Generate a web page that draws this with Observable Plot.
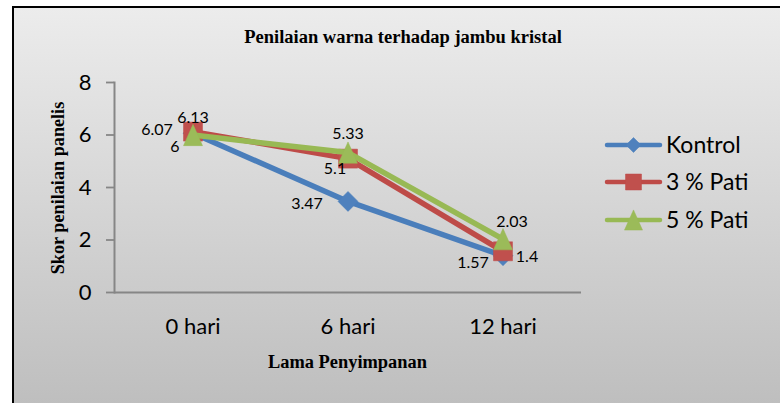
<!DOCTYPE html>
<html>
<head>
<meta charset="utf-8">
<script src="https://cdn.jsdelivr.net/npm/d3@7"></script>
<script src="https://cdn.jsdelivr.net/npm/@observablehq/plot@0.6"></script>
<style>
  html, body { margin: 0; padding: 0; background: #fff; }
  #wrap { position: relative; width: 780px; height: 403px; overflow: hidden; background: #fff; }
  #panel { position: absolute; left: 12px; top: 6px; width: 800px; height: 420px;
           border-left: 2.5px solid #000; border-top: 2.5px solid #000;
           background: linear-gradient(to bottom, #ececec 0px, #bebebe 397px); }
  #chart, #overlay { position: absolute; left: 0; top: 0; }
</style>
</head>
<body>
<div id="wrap">
  <div id="panel"></div>
  <div id="chart"></div>
  <svg id="overlay" width="780" height="403"></svg>
</div>
<script>
// ---- data ----
const categories = ["0 hari", "6 hari", "12 hari"];
const seriesNames = ["Kontrol", "3 % Pati", "5 % Pati"];
const kontrol = [6.07, 3.47, 1.4];
const pati3 = [6.13, 5.1, 1.57];
const pati5 = [6, 5.33, 2.03];
const yTicks = [0, 2, 4, 6, 8];
const titleText = "Penilaian warna terhadap jambu kristal";
const xTitle = "Lama Penyimpanan";
const yTitle = "Skor penilaian panelis";

// ---- styling (not data) ----
const lineColors = ["#4A7EBB", "#BE4B48", "#98B954"];
const fillColors = ["#4F81BD", "#C0504D", "#9BBB59"];
// data label offsets [dx, dy] per series per point
const labelOffsets = [
  [[-36, -3], [-41, 2], [24, 1]],
  [[0, -14], [-13, 10], [-30, 12]],
  [[-18, 12], [0, -19], [9, -17]]
];

// custom marker symbols (extent = sqrt(size))
const symDiamond = { draw(ctx, size) { const h = Math.sqrt(size) / 2; ctx.moveTo(0, -h); ctx.lineTo(h, 0); ctx.lineTo(0, h); ctx.lineTo(-h, 0); ctx.closePath(); } };
const symSquare = { draw(ctx, size) { const h = Math.sqrt(size) / 2; ctx.moveTo(-h, -h); ctx.lineTo(h, -h); ctx.lineTo(h, h); ctx.lineTo(-h, h); ctx.closePath(); } };
const symTriangle = { draw(ctx, size) { const w = Math.sqrt(size) / 2; const H = Math.sqrt(size) * 1.12 / 2; ctx.moveTo(0, -H); ctx.lineTo(w, H); ctx.lineTo(-w, H); ctx.closePath(); } };
const symbols = [symDiamond, symSquare, symTriangle];
const markerExtent = [20, 19, 19];
const legendExtent = [15, 16, 18];

const seriesValues = [kontrol, pati3, pati5];
const series = seriesNames.map((name, i) => ({
  name,
  rows: categories.map((c, j) => ({ series: name, cat: c, value: seriesValues[i][j] }))
}));

const marks = [
  Plot.axisX({ tickSize: 0, tickPadding: 26, fontSize: 22, label: null }),
  Plot.axisY({ ticks: yTicks, tickSize: 8, tickPadding: 15, stroke: "#868686", strokeWidth: 1.8, fontSize: 22, label: null }),
  Plot.ruleY([0], { stroke: "#868686", strokeWidth: 2 }),
  Plot.frame({ anchor: "left", stroke: "#868686", strokeWidth: 2 })
];

series.forEach((s, i) => {
  marks.push(Plot.line(s.rows, { x: "cat", y: "value", stroke: lineColors[i], strokeWidth: 5.5, strokeLinejoin: "round", strokeLinecap: "round" }));
  marks.push(Plot.dot(s.rows, { x: "cat", y: "value", symbol: symbols[i], r: markerExtent[i] / Math.sqrt(Math.PI), fill: fillColors[i], stroke: lineColors[i], strokeWidth: 0.5 }));
});

series.forEach((s, i) => {
  s.rows.forEach((row, j) => {
    marks.push(Plot.text([row], { x: "cat", y: "value", text: d => String(d.value), dx: labelOffsets[i][j][0], dy: labelOffsets[i][j][1], fontSize: 16, fill: "#000", textAnchor: "middle" }));
  });
});

const plot = Plot.plot({
  width: 780, height: 403,
  marginLeft: 114, marginRight: 199, marginTop: 82, marginBottom: 111,
  style: { background: "transparent", fontFamily: "Lato, sans-serif", fontSize: "22px", color: "#000", overflow: "visible" },
  x: { type: "band", domain: categories, padding: 0, label: null },
  y: { domain: [0, 8], label: null },
  marks
});
document.getElementById("chart").appendChild(plot);

// ---- titles & legend overlay ----
const ov = d3.select("#overlay");
const serif = "'Liberation Serif', 'Times New Roman', serif";
ov.append("text").attr("x", 403).attr("y", 43).attr("text-anchor", "middle")
  .style("font-family", serif).style("font-weight", "bold").style("font-size", "18.5px").text(titleText);
ov.append("text").attr("x", 347.5).attr("y", 368).attr("text-anchor", "middle")
  .style("font-family", serif).style("font-weight", "bold").style("font-size", "18.4px").text(xTitle);
ov.append("text").attr("transform", "translate(64,188) rotate(-90)").attr("text-anchor", "middle")
  .style("font-family", serif).style("font-weight", "bold").style("font-size", "18.2px").text(yTitle);

const legendY = [145, 182, 220];
seriesNames.forEach((name, i) => {
  const g = ov.append("g").attr("transform", `translate(0,${legendY[i]})`);
  g.append("line").attr("x1", 607).attr("x2", 660).attr("y1", 0).attr("y2", 0)
    .attr("stroke", lineColors[i]).attr("stroke-width", 4.5).attr("stroke-linecap", "round");
  g.append("path").attr("transform", "translate(633.5,0)")
    .attr("d", d3.symbol(symbols[i], legendExtent[i] * legendExtent[i])())
    .attr("fill", fillColors[i]).attr("stroke", lineColors[i]).attr("stroke-width", 0.5);
  g.append("text").attr("x", 666).attr("y", 0).attr("dy", "0.35em")
    .style("font-family", "Lato, sans-serif").style("font-size", "23px").attr("fill", "#000").text(name);
});
</script>
</body>
</html>
